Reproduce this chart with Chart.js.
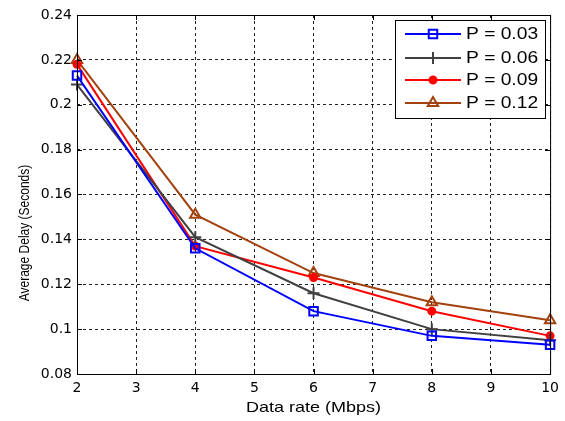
<!DOCTYPE html>
<html lang="en">
<head>
  <meta charset="UTF-8">
  <title>Average Delay vs Data rate</title>
  <script src="https://cdn.jsdelivr.net/npm/chart.js@4.4.1/dist/chart.umd.min.js"></script>
  <style>
    html, body { margin: 0; padding: 0; background: #fff; }
    #wrap { width: 565px; height: 421px; }
  </style>
</head>
<body>
  <div id="wrap"><canvas id="delay"></canvas></div>

  <script>
    // values
    const dataRates = [2, 4, 6, 8, 10]
    const p003 = [0.213, 0.136, 0.108, 0.097, 0.093]
    const p006 = [0.209, 0.141, 0.116, 0.100, 0.095]
    const p009 = [0.218, 0.137, 0.123, 0.108, 0.097]
    const p012 = [0.220, 0.151, 0.125, 0.112, 0.104]
    const seriesLabels = ["P = 0.03", "P = 0.06", "P = 0.09", "P = 0.12"]
    const yTicks = [0.08, 0.1, 0.12, 0.14, 0.16, 0.18, 0.2, 0.22, 0.24]
    const xTitle = "Data rate (Mbps)"
    const yTitle = "Average Delay (Seconds)"

    const font = "'DejaVu Sans', 'Liberation Sans', sans-serif"
    const arial = "'Liberation Sans', Arial, sans-serif"

    function pts(vals) {
      return vals.map((v, i) => ({ x: dataRates[i], y: v }))
    }

    const styles = [
      { color: "#0000ff", point: "rect", radius: 6, fill: "rgba(0,0,0,0)" },
      { color: "#404040", point: "cross", radius: 6, fill: "#404040" },
      { color: "#ff0000", point: "circle", radius: 3.5, fill: "#ff0000" },
      { color: "#a3420f", point: "triangle", radius: 6, fill: "rgba(0,0,0,0)" }
    ]
    const series = [p003, p006, p009, p012]

    const datasets = series.map((vals, i) => ({
      label: seriesLabels[i],
      data: pts(vals),
      borderColor: styles[i].color,
      backgroundColor: styles[i].fill,
      pointStyle: styles[i].point,
      pointRadius: styles[i].radius,
      pointBorderWidth: 2,
      pointBorderColor: styles[i].color,
      pointBackgroundColor: styles[i].fill,
      borderWidth: 2,
      tension: 0,
      clip: false
    }))

    // matlab style frame, inner ticks, axis titles and boxed legend
    const matlabLook = {
      id: "matlabLook",
      afterDatasetsDraw(chart) {
        const ctx = chart.ctx
        const a = chart.chartArea
        const xs = chart.scales.x
        const ys = chart.scales.y
        ctx.save()
        ctx.strokeStyle = "#000"
        ctx.lineWidth = 1
        ctx.setLineDash([])
        ctx.strokeRect(a.left + 0.5, a.top + 0.5, a.right - a.left, a.bottom - a.top)
        ctx.beginPath()
        for (let v = 2; v <= 10; v++) {
          const x = Math.round(xs.getPixelForValue(v)) + 0.5
          ctx.moveTo(x, a.bottom); ctx.lineTo(x, a.bottom - 5)
          ctx.moveTo(x, a.top); ctx.lineTo(x, a.top + 5)
        }
        yTicks.forEach(v => {
          const y = Math.round(ys.getPixelForValue(v)) + 0.5
          ctx.moveTo(a.left, y); ctx.lineTo(a.left + 5, y)
          ctx.moveTo(a.right, y); ctx.lineTo(a.right - 5, y)
        })
        ctx.stroke()

        // axis titles (the source image is stretched a bit sideways)
        ctx.fillStyle = "#000"
        ctx.textAlign = "center"
        ctx.textBaseline = "middle"
        ctx.save()
        ctx.translate((a.left + a.right) / 2, 408)
        ctx.scale(1.2, 1)
        ctx.font = "15px " + arial
        ctx.fillText(xTitle, 0, 0)
        ctx.restore()
        ctx.save()
        ctx.translate(25, 233)
        ctx.rotate(-Math.PI / 2)
        ctx.scale(1, 1.25)
        ctx.font = "12px " + arial
        ctx.fillText(yTitle, 0, 0)
        ctx.restore()

        // legend box
        const bx = 395, by = 20, bw = 150, bh = 98
        ctx.fillStyle = "#fff"
        ctx.fillRect(bx, by, bw, bh)
        ctx.strokeRect(bx + 0.5, by + 0.5, bw, bh)
        const rows = [34, 58, 80, 103]
        ctx.textBaseline = "middle"
        ctx.textAlign = "left"
        seriesLabels.forEach((lab, i) => {
          const y = rows[i]
          const s = styles[i]
          ctx.strokeStyle = s.color
          ctx.lineWidth = 2
          ctx.beginPath()
          ctx.moveTo(405, y); ctx.lineTo(461, y)
          ctx.stroke()
          ctx.fillStyle = s.fill
          Chart.helpers.drawPoint(ctx, { pointStyle: s.point, radius: s.radius, borderWidth: 2 }, 433, y)
          ctx.fillStyle = "#000"
          ctx.save()
          ctx.translate(466, y + 1)
          ctx.scale(1.2, 1)
          ctx.font = "16px " + arial
          ctx.fillText(lab, 0, 0)
          ctx.restore()
        })
        ctx.restore()
      }
    }

    new Chart(document.getElementById("delay"), {
      type: "line",
      data: { datasets: datasets },
      plugins: [matlabLook],
      options: {
        responsive: true,
        maintainAspectRatio: false,
        animation: false,
        layout: { padding: { top: 15, right: 9, left: 0, bottom: 0 } },
        plugins: { legend: { display: false }, tooltip: { enabled: false } },
        scales: {
          x: {
            type: "linear",
            min: 2, max: 10,
            afterFit(scale) { scale.height = 47 },
            ticks: { stepSize: 1, color: "#000", font: { family: font, size: 14 }, padding: 6 },
            grid: { color: "#222", drawTicks: false, tickLength: 0 },
            border: { display: false, dash: [3, 3] },
            title: { display: false }
          },
          y: {
            min: 0.08, max: 0.24,
            afterFit(scale) { scale.width = 77 },
            afterBuildTicks(scale) { scale.ticks = yTicks.map(v => ({ value: v })) },
            ticks: {
              color: "#000", font: { family: font, size: 14 }, padding: 5,
              callback: v => String(+v.toFixed(2))
            },
            grid: { color: "#222", drawTicks: false, tickLength: 0 },
            border: { display: false, dash: [3, 3] },
            title: { display: false }
          }
        }
      }
    })
  </script>
</body>
</html>
